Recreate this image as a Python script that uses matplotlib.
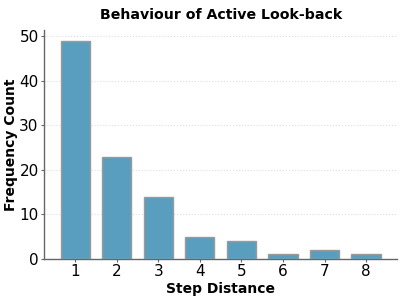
import matplotlib.pyplot as plt

# data
steps = [1, 2, 3, 4, 5, 6, 7, 8]
counts = [49, 23, 14, 5, 4, 1, 2, 1]

bar_color = "#5a9ebf"

fig = plt.figure(figsize=(4.02, 3.0), dpi=100)
ax = fig.add_axes([0.11, 0.137, 0.878, 0.763])

ax.bar(steps, counts, width=0.7, color=bar_color, edgecolor="#9a9a9a", linewidth=1.0, zorder=3)

ax.set_xlim(0.25, 8.75)
ax.set_ylim(0, 51.45)
ax.set_xticks(steps)
ax.set_yticks([0, 10, 20, 30, 40, 50])

ax.grid(axis="y", linestyle=":", color="#dddddd", linewidth=0.8, zorder=0)
ax.spines["top"].set_visible(False)
ax.spines["right"].set_visible(False)
for s in ("left", "bottom"):
    ax.spines[s].set_color("#666666")
    ax.spines[s].set_linewidth(1.0)

ax.tick_params(axis="both", labelsize=11, length=2.5, pad=1.5, color="#666666")

ax.set_title("Behaviour of Active Look-back", fontsize=10.2, fontweight="bold", pad=8)
ax.set_xlabel("Step Distance", fontsize=10, fontweight="bold", labelpad=1.5)
ax.set_ylabel("Frequency Count", fontsize=10, fontweight="bold", labelpad=1)

fig.savefig("out.png", dpi=100)
